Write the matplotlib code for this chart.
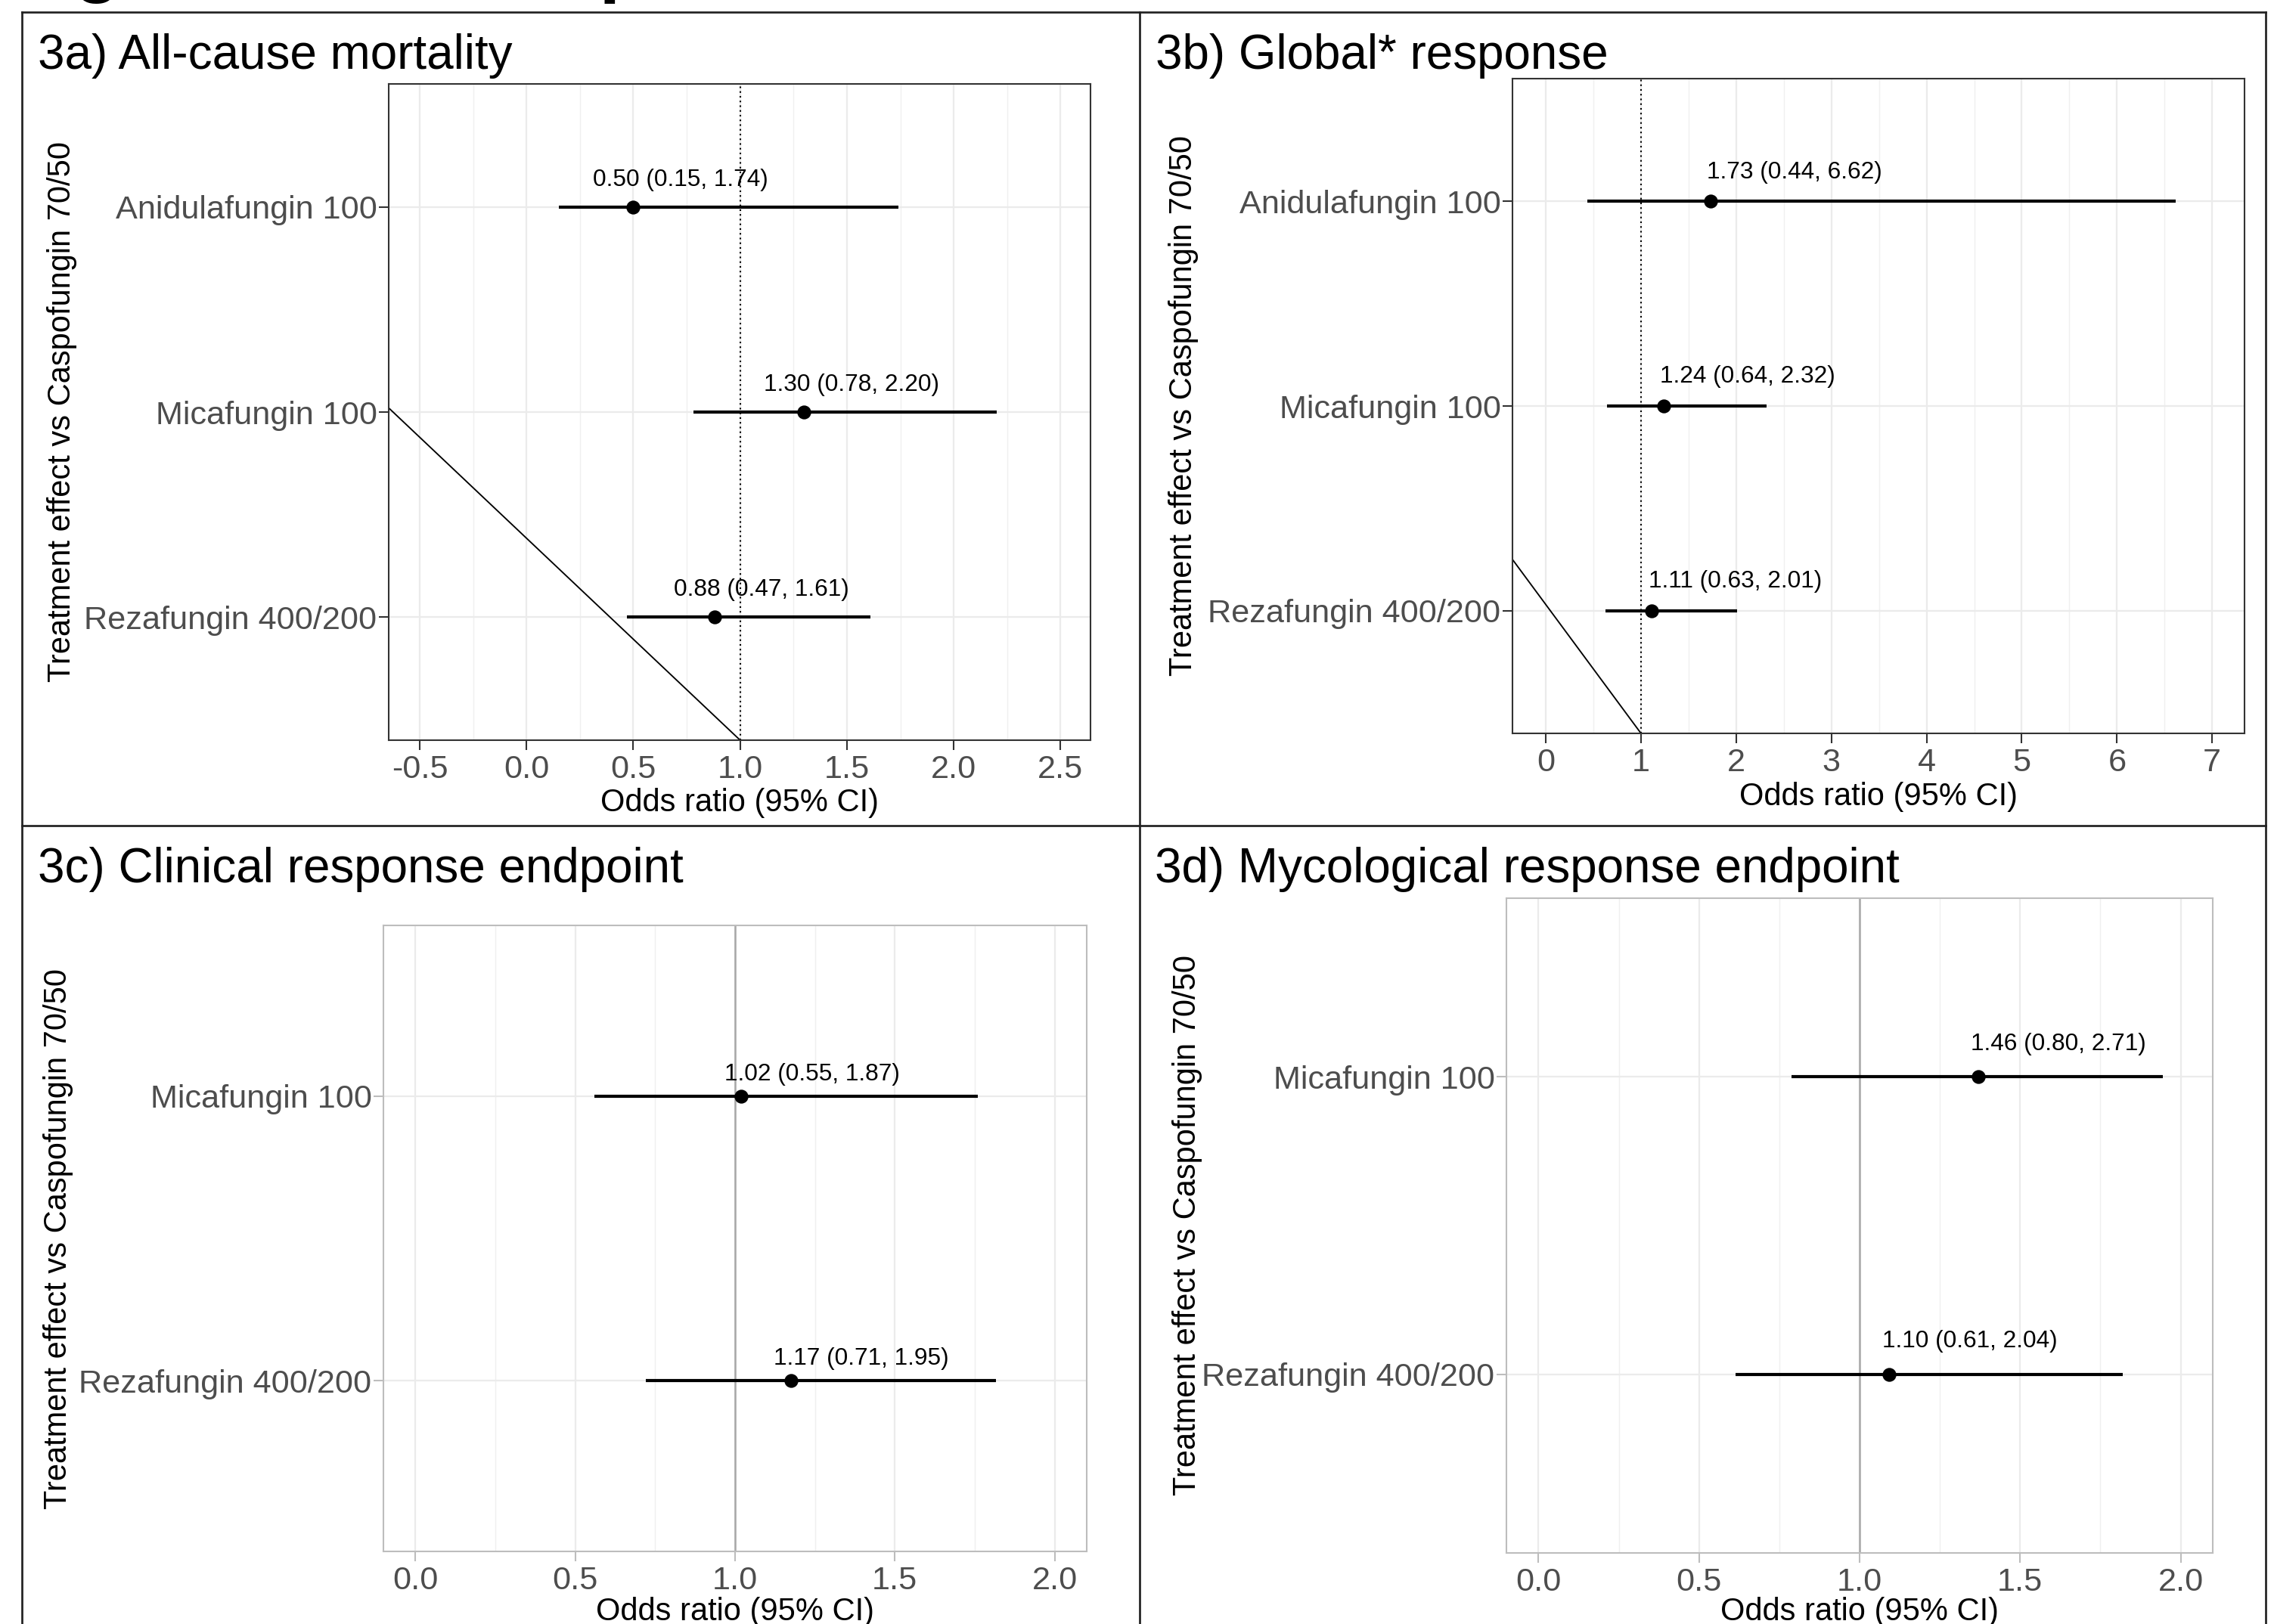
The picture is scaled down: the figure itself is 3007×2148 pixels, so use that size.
import matplotlib
matplotlib.use("Agg")
import matplotlib.pyplot as plt
from matplotlib.lines import Line2D
from matplotlib.ticker import FixedLocator, FormatStrFormatter

plt.rcParams['font.family'] = ['Liberation Sans', 'DejaVu Sans']
plt.rcParams['axes.unicode_minus'] = False

# ---------------- data ----------------
cats_3 = ["Anidulafungin 100", "Micafungin 100", "Rezafungin 400/200"]
cats_2 = ["Micafungin 100", "Rezafungin 400/200"]

# 3a) All-cause mortality
or_a = [0.50, 1.30, 0.88]
lo_a = [0.15, 0.78, 0.47]
hi_a = [1.74, 2.20, 1.61]
lab_a = ["0.50 (0.15, 1.74)", "1.30 (0.78, 2.20)", "0.88 (0.47, 1.61)"]
diag_a_x = [-0.645, 1.0]
diag_a_y = [2.02, 0.4]

# 3b) Global* response
or_b = [1.73, 1.24, 1.11]
lo_b = [0.44, 0.64, 0.63]
hi_b = [6.62, 2.32, 2.01]
lab_b = ["1.73 (0.44, 6.62)", "1.24 (0.64, 2.32)", "1.11 (0.63, 2.01)"]
diag_b_x = [-0.35, 1.0]
diag_b_y = [1.25, 0.4]

# 3c) Clinical response endpoint (drawn values as plotted)
or_c = [1.02, 1.175]
lo_c = [0.56, 0.72]
hi_c = [1.76, 1.815]
lab_c = ["1.02 (0.55, 1.87)", "1.17 (0.71, 1.95)"]

# 3d) Mycological response endpoint (drawn values as plotted)
or_d = [1.37, 1.093]
lo_d = [0.788, 0.614]
hi_d = [1.944, 1.82]
lab_d = ["1.46 (0.80, 2.71)", "1.10 (0.61, 2.04)"]

titles = ["3a) All-cause mortality", "3b) Global* response",
          "3c) Clinical response endpoint", "3d) Mycological response endpoint"]
ylab = "Treatment effect vs Caspofungin 70/50"
xlab = "Odds ratio (95% CI)"

# ---------------- figure ----------------
W, H = 3007, 2148
fig = plt.figure(figsize=(W / 300, H / 300), dpi=300)


def fx(x):
    return x / W


def fy(y):
    return 1 - y / H


def add_ax(x0, y0, x1, y1):
    return fig.add_axes([fx(x0), fy(y1), fx(x1) - fx(x0), (y1 - y0) / H])


def panel(ax, cats, ors, los, his, labs, xlim, majors, minors, fmt, dark,
          nudge, dy, diag=None):
    n = len(cats)
    ys = list(range(n, 0, -1))
    ax.set_xlim(*xlim)
    ax.set_ylim(0.4, n + 0.6)
    # grid
    for m in minors:
        ax.axvline(m, color='#F0F0F0', lw=0.35, zorder=0)
    for m in majors:
        ax.axvline(m, color='#EBEBEB', lw=0.55, zorder=0)
    for y in ys:
        ax.axhline(y, color='#EBEBEB', lw=0.55, zorder=0)
    # reference line
    if dark:
        ax.axvline(1.0, color='black', lw=0.5, ls=(0, (1, 2)), zorder=1)
    else:
        ax.axvline(1.0, color='#A8A8A8', lw=0.6, zorder=1)
    if diag is not None:
        ax.plot(diag[0], diag[1], color='black', lw=0.45, zorder=2)
    # error bars + points
    ax.hlines(ys, los, his, color='black', lw=1.0, zorder=3)
    ax.plot(ors, ys, 'o', color='black', ms=3.4, zorder=4)
    for o, y, lab in zip(ors, ys, labs):
        ax.annotate(lab, xy=(o + nudge, y), xytext=(0, dy),
                    textcoords='offset points', ha='center', va='center',
                    fontsize=7.6, color='black')
    ax.xaxis.set_major_locator(FixedLocator(majors))
    ax.xaxis.set_major_formatter(FormatStrFormatter(fmt))
    ax.set_yticks(ys)
    ax.set_yticklabels(cats)
    edge = '#333333' if dark else '#BDBDBD'
    for s in ax.spines.values():
        s.set_color(edge)
        s.set_linewidth(0.5)
    ax.tick_params(axis='both', length=3.1, width=0.5, color=edge,
                   labelcolor='#4D4D4D', labelsize=10.4)
    ax.tick_params(axis='y', pad=0.6)
    ax.tick_params(axis='x', pad=1.4)


# panel rectangles in pixel coordinates
ax_a = add_ax(514, 111, 1442, 979)
ax_b = add_ax(2000, 104, 2968, 970)
ax_c = add_ax(507, 1224, 1437, 2052)
ax_d = add_ax(1992, 1188, 2926, 2054)

panel(ax_a, cats_3, or_a, lo_a, hi_a, lab_a, (-0.645, 2.64),
      [-0.5, 0, 0.5, 1.0, 1.5, 2.0, 2.5], [-0.25, 0.25, 0.75, 1.25, 1.75, 2.25],
      '%.1f', True, 0.22, 8.6, (diag_a_x, diag_a_y))
panel(ax_b, cats_3, or_b, lo_b, hi_b, lab_b, (-0.35, 7.34),
      [0, 1, 2, 3, 4, 5, 6, 7], [0.5, 1.5, 2.5, 3.5, 4.5, 5.5, 6.5],
      '%d', True, 0.88, 9.3, (diag_b_x, diag_b_y))
panel(ax_c, cats_2, or_c, lo_c, hi_c, lab_c, (-0.1, 2.1),
      [0, 0.5, 1.0, 1.5, 2.0], [0.25, 0.75, 1.25, 1.75],
      '%.1f', False, 0.22, 7.0)
panel(ax_d, cats_2, or_d, lo_d, hi_d, lab_d, (-0.1, 2.1),
      [0, 0.5, 1.0, 1.5, 2.0], [0.25, 0.75, 1.25, 1.75],
      '%.1f', False, 0.25, 10.4)

# panel titles
for t, (x, y) in zip(titles, [(50, 91), (1528, 91), (50, 1167), (1527, 1167)]):
    fig.text(fx(x), fy(y), t, fontsize=15.3, color='black', va='baseline', ha='left')

# axis titles
for (x, y) in [(82, 545), (1565, 537), (77, 1638), (1570, 1621)]:
    fig.text(fx(x), fy(y), ylab, rotation=90, fontsize=10, color='black',
             ha='center', va='center')
for (x, y) in [(978, 1073), (2484, 1065), (972, 2143), (2459, 2143)]:
    fig.text(fx(x), fy(y), xlab, fontsize=10, color='black',
             ha='center', va='baseline')

# cut-off figure heading at top (only descenders visible, as in the source)
fig.text(fx(9), fy(-16), "Figure 3: Forest plots", fontsize=24, fontweight='bold',
         color='black', ha='left', va='baseline')

# outer frame lines
lc = '#222222'
lw = 0.65
fig.add_artist(Line2D([fx(29), fx(2996)], [fy(16), fy(16)], color=lc, lw=lw))
fig.add_artist(Line2D([fx(29), fx(2996)], [fy(1092), fy(1092)], color=lc, lw=lw))
for x in (29, 1507, 2996):
    fig.add_artist(Line2D([fx(x), fx(x)], [fy(16), fy(2160)], color=lc, lw=lw))

fig.savefig("out.png", dpi=300)
